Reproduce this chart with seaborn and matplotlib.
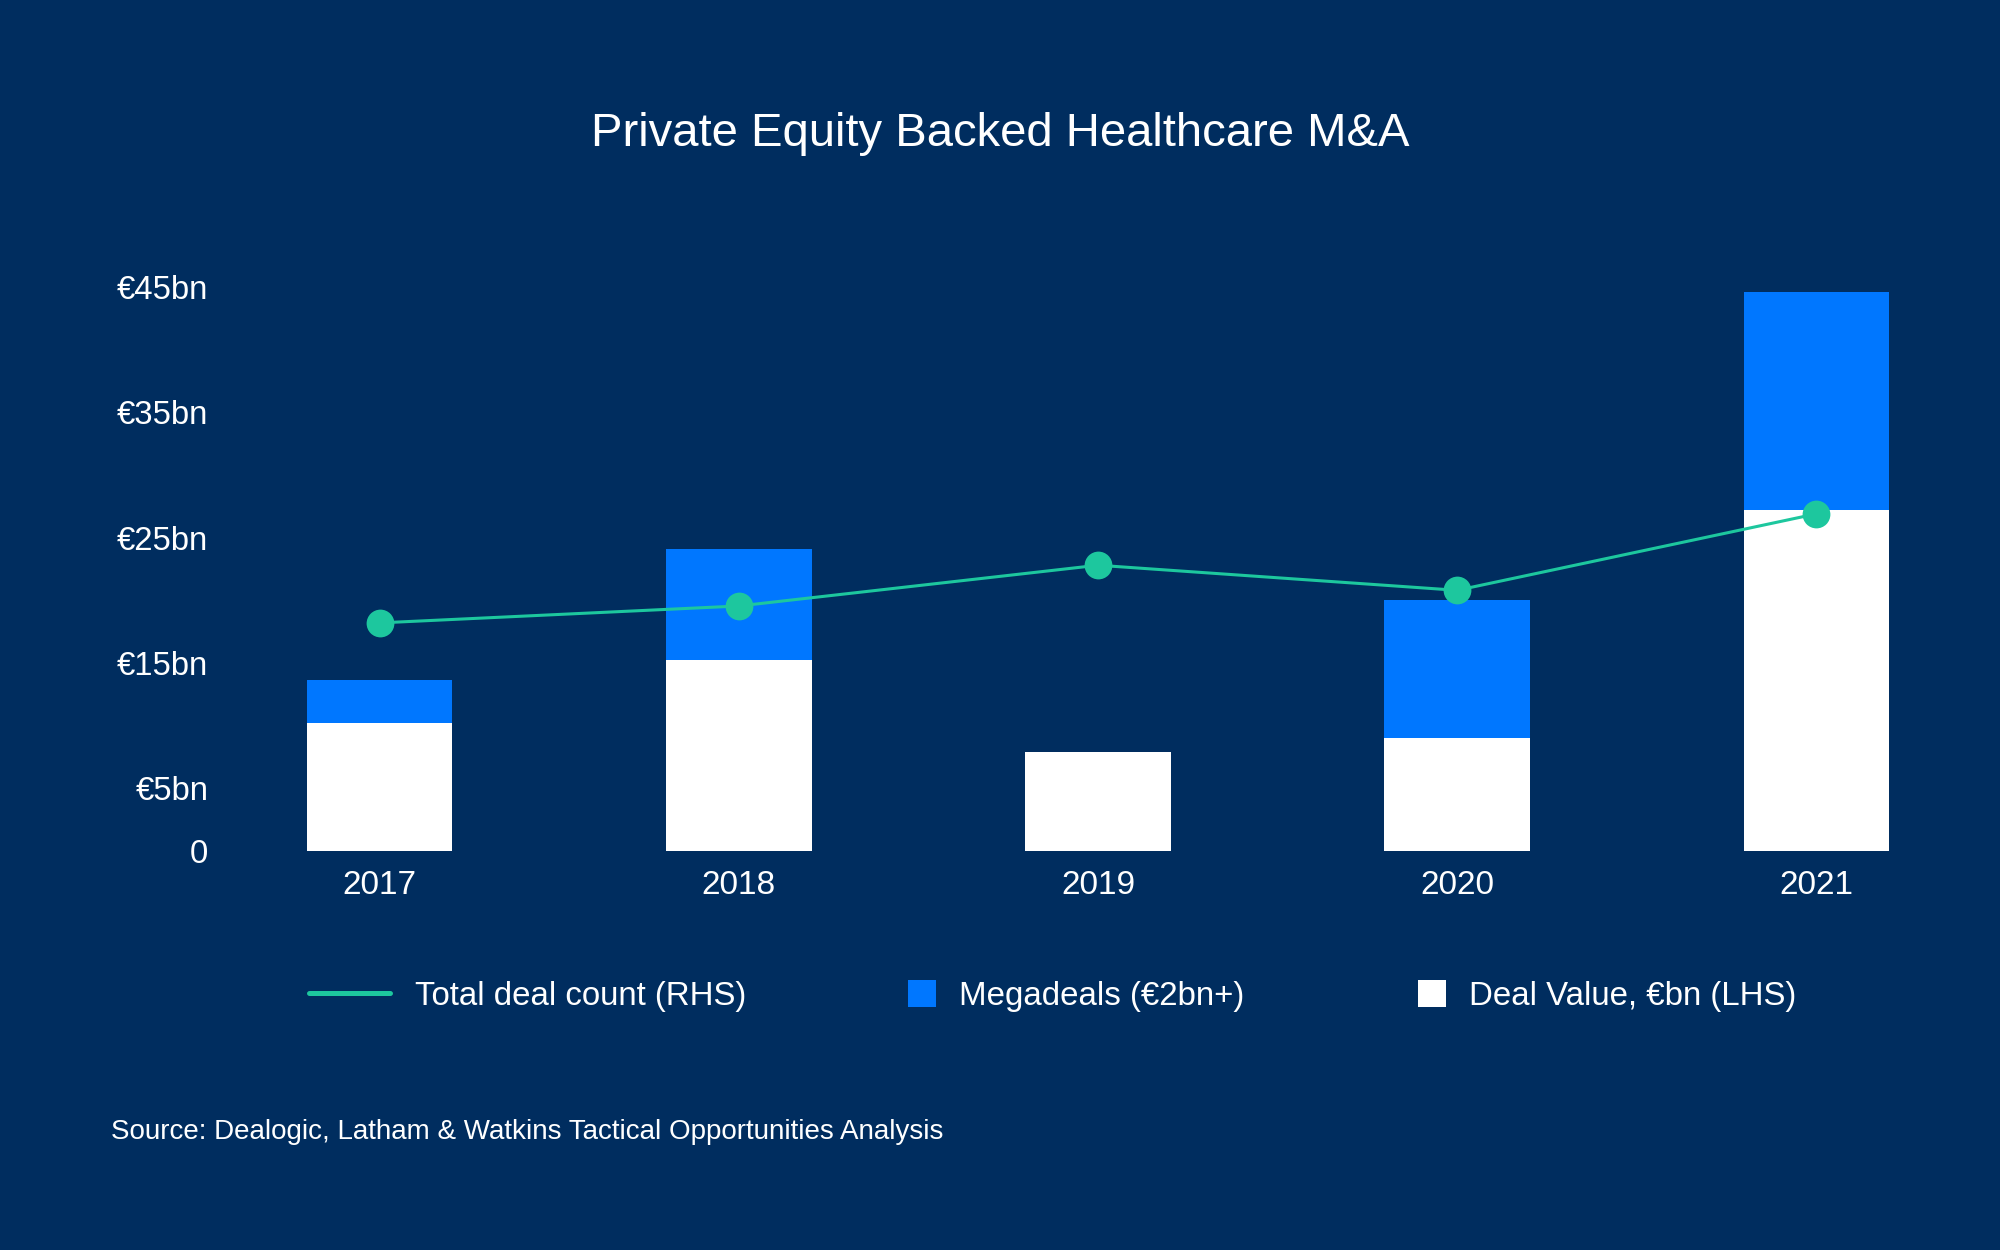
import matplotlib
matplotlib.use("Agg")
import matplotlib.pyplot as plt
from matplotlib.lines import Line2D
from matplotlib.patches import Patch
import pandas as pd
import seaborn as sns

# data (€bn, LHS); deal count plotted on hidden RHS axis
years = ["2017", "2018", "2019", "2020", "2021"]
deal_value = [10.2, 15.2, 7.9, 9.05, 27.2]
megadeals = [3.45, 8.9, 0.0, 11.0, 17.4]
deal_count = [18.2, 19.55, 22.8, 20.8, 26.9]

y_ticks = [0, 5, 15, 25, 35, 45]
y_labels = ["0", "€5bn", "€15bn", "€25bn", "€35bn", "€45bn"]

BG = "#002D5F"
BLUE = "#0077FF"
GREEN = "#1DC79E"
WHITE = "#FFFFFF"

sns.set_theme(style="white")
plt.rcParams["font.family"] = ["Liberation Sans", "DejaVu Sans"]

df = pd.DataFrame({
    "year": years,
    "value": deal_value,
    "mega": megadeals,
    "count": deal_count,
})
df["total"] = df["value"] + df["mega"]

fig = plt.figure(figsize=(20, 12.5), dpi=100, facecolor=BG)
ax = fig.add_axes([0.1535, 0.3192, 0.791, 0.4512])
ax.set_facecolor(BG)

# stacked bars: blue total behind, white deal value in front
sns.barplot(data=df, x="year", y="total", color=BLUE, width=0.405,
            saturation=1, ax=ax, linewidth=0)
sns.barplot(data=df, x="year", y="value", color=WHITE, width=0.405,
            saturation=1, ax=ax, linewidth=0)

ax.set_xlim(-0.2025, 4.2025)
ax.set_ylim(0, 45)
ax.set_yticks(y_ticks)
ax.set_yticklabels(y_labels)
ax.set_xlabel("")
ax.set_ylabel("")
ax.tick_params(axis="y", colors=WHITE, labelsize=23.7, length=0, pad=71)
ax.tick_params(axis="x", colors=WHITE, labelsize=24, length=0, pad=14)
for s in ax.spines.values():
    s.set_visible(False)
ax.grid(False)

# deal count line on hidden right axis
ax2 = ax.twinx()
sns.lineplot(data=df, x="year", y="count", color=GREEN, linewidth=2.2,
             marker="o", markersize=20, markeredgewidth=0, ax=ax2)
ax2.set_ylim(0, 45)
ax2.set_xlim(-0.2025, 4.2025)
ax2.set_axis_off()

fig.text(0.5, 0.893, "Private Equity Backed Healthcare M&A", color=WHITE,
         fontsize=34, ha="center", va="center")

# legend, three entries placed like the reference
leg_y = 1 - 996 / 1250
entries = [
    (Line2D([], [], color=GREEN, lw=3.6), "Total deal count (RHS)", 0.1545, 2.45, 0.75),
    (Patch(facecolor=BLUE, edgecolor="none"), "Megadeals (€2bn+)", 0.454, 0.85, 0.7),
    (Patch(facecolor=WHITE, edgecolor="none"), "Deal Value, €bn (LHS)", 0.709, 0.85, 0.7),
]
for handle, label, x, hl, tp in entries:
    fig.legend([handle], [label], loc="center left",
               bbox_to_anchor=(x, leg_y), frameon=False,
               fontsize=23.8, labelcolor=WHITE, handlelength=hl,
               handleheight=0.85, handletextpad=tp,
               borderpad=0, borderaxespad=0)

fig.text(0.0555, 1 - 1132 / 1250,
         "Source: Dealogic, Latham & Watkins Tactical Opportunities Analysis",
         color=WHITE, fontsize=20, ha="left", va="center")

fig.savefig("out.png", dpi=100, facecolor=BG)
